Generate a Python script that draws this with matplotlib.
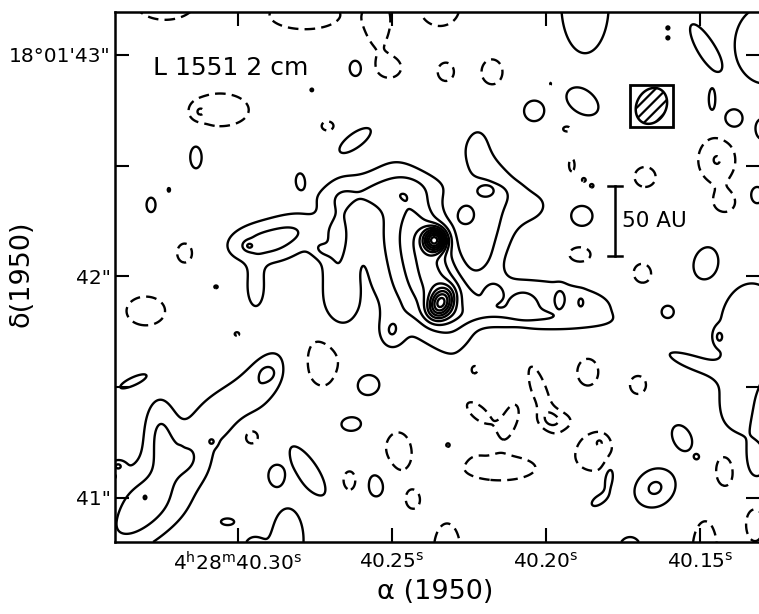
import numpy as np
import matplotlib
matplotlib.use("Agg")
import matplotlib.pyplot as plt
from matplotlib.patches import Rectangle, Polygon

plt.rcParams['hatch.linewidth'] = 1.6

# L1551 2 cm map, RA in seconds after 4h28m, Dec in arcsec after 18d01'
# emission components: position, peak (contour steps),
# gaussian sigma along / across the position angle (arcsec), angle (deg, ccw from +x on the plot)
pos_ra = [40.2360, 40.2341, 40.2367, 40.2442, 40.2052, 40.2084, 40.2166, 40.2075, 40.1954, 40.1886,
          40.2555, 40.2799, 40.2221, 40.2052, 40.2149, 40.2133, 40.2912, 40.2964, 40.2942, 40.2675,
          40.2734, 40.2799, 40.2896, 40.2984, 40.3081, 40.3253, 40.3156, 40.3286, 40.3302, 40.3367,
          40.3084, 40.3188, 40.3344, 40.3390, 40.2838, 40.2955, 40.1331, 40.1386, 40.1532, 40.1438,
          40.1604, 40.1321, 40.1315, 40.1289, 40.1299, 40.1873, 40.1490, 40.1604, 40.1604, 40.1461,
          40.1393, 40.2617, 40.2039, 40.1880, 40.2760, 40.2620, 40.3136, 40.3282, 40.3224, 40.2195,
          40.2256, 40.1883, 40.1484, 40.2669, 40.2503, 40.2581, 40.2633, 40.2877, 40.2773, 40.2549,
          40.3033, 40.1558, 40.1510, 40.1646, 40.1795, 40.1828, 40.1727, 40.2903]
pos_dec = [42.165, 41.880, 42.038, 42.097, 41.885, 41.813, 41.930, 41.876, 41.907, 41.885,
           42.381, 42.445, 42.571, 42.309, 42.458, 42.187, 42.151, 42.138, 41.948, 42.156,
           42.120, 42.219, 41.569, 41.465, 41.352, 41.298, 41.180, 41.027, 41.004, 40.855,
           41.253, 41.194, 41.524, 41.144, 40.810, 40.774, 41.758, 41.397, 41.614, 41.727,
           41.840, 41.162, 42.368, 43.045, 42.661, 43.226, 43.045, 43.122, 43.077, 42.797,
           42.707, 42.941, 42.747, 42.783, 42.842, 42.616, 42.544, 42.323, 42.391, 42.381,
           42.278, 42.273, 42.065, 41.858, 41.749, 41.510, 41.334, 41.104, 41.126, 41.063,
           40.892, 41.271, 41.185, 41.045, 41.095, 40.991, 40.774, 41.564]
pos_peak = [7.5, 5.5, 2.0, 2.6, 1.8, 0.8, 0.9, 1.0, 0.9, 0.8,
            1.1, 1.0, 1.3, 1.4, 1.2, 1.3, 2.3, 1.2, 1.9, 1.9,
            0.9, 1.0, 1.35, 1.15, 1.3, 1.9, 1.5, 1.7, 0.6, 1.7,
            0.9, 0.6, 1.3, 1.5, 1.5, 1.2, 1.7, 1.5, 1.3, 1.3,
            1.4, 1.5, 1.4, 1.6, 1.5, 1.6, 1.6, 1.2, 1.2, 1.5,
            1.5, 1.5, 1.5, 1.5, 1.2, 1.5, 1.5, 1.5, 1.2, 1.4,
            1.4, 1.5, 1.5, 1.5, 1.5, 1.5, 1.5, 1.5, 1.5, 1.5,
            1.3, 1.5, 1.2, 2.15, 2.2, 1.5, 1.5, 0.6]
pos_major = [0.036, 0.050, 0.248, 0.270, 0.338, 0.293, 0.027, 0.036, 0.018, 0.014,
             0.270, 0.036, 0.063, 0.072, 0.090, 0.158, 0.135, 0.018, 0.072, 0.171,
             0.036, 0.090, 0.099, 0.126, 0.108, 0.126, 0.081, 0.158, 0.014, 0.158,
             0.014, 0.009, 0.081, 0.023, 0.158, 0.045, 0.203, 0.126, 0.126, 0.018,
             0.023, 0.054, 0.036, 0.144, 0.027, 0.113, 0.099, 0.011, 0.011, 0.045,
             0.041, 0.032, 0.050, 0.072, 0.011, 0.072, 0.032, 0.023, 0.009, 0.027,
             0.032, 0.054, 0.068, 0.068, 0.041, 0.063, 0.054, 0.032, 0.135, 0.050,
             0.036, 0.068, 0.011, 0.081, 0.045, 0.045, 0.054, 0.027]
pos_minor = [0.036, 0.036, 0.072, 0.135, 0.090, 0.032, 0.027, 0.036, 0.032, 0.023,
             0.054, 0.054, 0.108, 0.054, 0.036, 0.045, 0.072, 0.014, 0.032, 0.059,
             0.027, 0.054, 0.063, 0.081, 0.081, 0.059, 0.081, 0.113, 0.018, 0.099,
             0.014, 0.018, 0.023, 0.018, 0.081, 0.054, 0.135, 0.063, 0.032, 0.027,
             0.023, 0.081, 0.045, 0.180, 0.041, 0.225, 0.032, 0.011, 0.011, 0.014,
             0.041, 0.041, 0.050, 0.045, 0.011, 0.027, 0.063, 0.036, 0.014, 0.018,
             0.036, 0.050, 0.050, 0.099, 0.054, 0.054, 0.036, 0.041, 0.045, 0.068,
             0.018, 0.045, 0.011, 0.068, 0.018, 0.023, 0.054, 0.023]
pos_angle = [0, 60, -72, -72, -3, -3, 0, 0, 0, 0,
             5, 0, 0, 20, -40, 71, 5, 0, 90, 88,
             -30, 0, 60, 40, 30, 90, 0, 0, 0, 30,
             0, 0, 25, 0, 90, 0, 90, 90, -20, 0,
             0, 0, 0, 0, 0, 0, -60, 0, 0, 90,
             0, 0, 0, -30, 0, 35, 0, 0, 0, 0,
             0, 0, 70, 0, 0, 0, 0, 0, -55, 0,
             0, -60, 0, 30, 80, 35, 0, 0]

# negative (dashed) features
neg_ra = [40.3237, 40.2782, 40.2344, 40.2506, 40.2545, 40.2325, 40.2175, 40.3058, 40.3123, 40.2708,
          40.1984, 40.1932, 40.1445, 40.1916, 40.1877, 40.1851, 40.1678, 40.1419, 40.1890, 40.1688,
          40.3172, 40.3071, 40.3299, 40.3003, 40.2724, 40.2958, 40.2480, 40.2636, 40.2432, 40.2234,
          40.2019, 40.1971, 40.2117, 40.2221, 40.2149, 40.2221, 40.1864, 40.1701, 40.2318, 40.1841,
          40.1825, 40.1412, 40.1321, 40.2321, 40.1484]
neg_dec = [43.248, 43.181, 43.212, 42.941, 43.136, 42.923, 42.923, 42.752, 42.743, 42.679,
           42.869, 42.666, 42.526, 42.503, 42.436, 42.409, 42.449, 42.332, 42.097, 42.007,
           42.106, 41.953, 41.844, 41.740, 41.623, 41.280, 41.207, 41.077, 40.991, 41.582,
           41.478, 41.352, 41.352, 41.388, 41.135, 41.162, 41.569, 41.510, 41.239, 41.207,
           41.253, 41.140, 40.878, 40.763, 40.763]
neg_peak = [-1.5, -1.5, -1.5, -1.5, -1.4, -1.5, -1.5, -1.4, -1.0, -1.4,
            -1.3, -1.3, -2.05, -1.3, -1.2, -1.2, -1.5, -1.5, -1.5, -1.5,
            -1.5, -1.2, -1.5, -1.2, -1.5, -1.5, -1.5, -1.5, -1.5, -1.5,
            -1.5, -1.5, -1.5, -1.5, -1.7, -0.7, -1.5, -1.5, -1.2, -1.5,
            -0.8, -1.5, -1.5, -1.5, -1.5]
neg_major = [0.158, 0.180, 0.099, 0.054, 0.054, 0.041, 0.054, 0.162, 0.023, 0.036,
             0.014, 0.027, 0.072, 0.018, 0.014, 0.014, 0.054, 0.050, 0.059, 0.054,
             0.041, 0.014, 0.099, 0.018, 0.090, 0.045, 0.068, 0.036, 0.032, 0.036,
             0.135, 0.063, 0.081, 0.081, 0.158, 0.023, 0.054, 0.041, 0.011, 0.090,
             0.023, 0.059, 0.045, 0.068, 0.063]
neg_minor = [0.099, 0.072, 0.090, 0.045, 0.113, 0.045, 0.063, 0.090, 0.023, 0.027,
             0.027, 0.018, 0.086, 0.041, 0.014, 0.014, 0.050, 0.045, 0.041, 0.059,
             0.050, 0.011, 0.072, 0.014, 0.131, 0.045, 0.099, 0.050, 0.041, 0.045,
             0.036, 0.036, 0.036, 0.036, 0.054, 0.018, 0.068, 0.045, 0.011, 0.090,
             0.023, 0.095, 0.081, 0.135, 0.144]
neg_angle = [0, 0, 0, 0, 0, 0, 0, 0, 0, 0,
             0, 0, 0, 0, 0, 0, 0, 0, 0, 0,
             0, 0, 0, 0, 0, 0, 0, 0, 0, 0,
             -70, 0, 70, -40, 0, 0, 0, 0, 0, 0,
             0, 0, 0, 0, 0]

neg_levels = [-2, -1]
pos_levels = [1, 2, 3, 4, 5, 6, 7, 8, 9, 10, 11, 12]

ra_ticks = [40.30, 40.25, 40.20, 40.15]
ra_labels = [r'4$^{\rm h}$28$^{\rm m}$40.30$^{\rm s}$', r'40.25$^{\rm s}$',
             r'40.20$^{\rm s}$', r'40.15$^{\rm s}$']
dec_ticks = [41.0, 41.5, 42.0, 42.5, 43.0]
dec_labels = ['41"', '', '42"', '', '18°01\'43"']

beam_major, beam_minor, beam_angle = 0.085, 0.068, 60   # arcsec (half axes), deg
scale_au, distance_pc = 50, 160

ra_lim = (40.3399, 40.1305)
dec_lim = (40.801, 43.194)
k = 15 * np.cos(np.radians(18.03))   # arcsec per second of RA

ra_grid = np.linspace(ra_lim[0], ra_lim[1], 700)
dec_grid = np.linspace(dec_lim[0], dec_lim[1], 700)
RA, DEC = np.meshgrid(ra_grid, dec_grid)


def add_components(field, ras, decs, peaks, majors, minors, angles):
    for r0, d0, a, sx, sy, ang in zip(ras, decs, peaks, majors, minors, angles):
        u = -(RA - r0) * k
        v = DEC - d0
        t = np.radians(ang)
        p = u * np.cos(t) + v * np.sin(t)
        q = -u * np.sin(t) + v * np.cos(t)
        field += a * np.exp(-0.5 * ((p / sx) ** 2 + (q / sy) ** 2))
    return field


field = np.zeros_like(RA)
field = add_components(field, pos_ra, pos_dec, pos_peak, pos_major, pos_minor, pos_angle)
field = add_components(field, neg_ra, neg_dec, neg_peak, neg_major, neg_minor, neg_angle)

fig = plt.figure(figsize=(7.59, 6.14), dpi=100)
ax = fig.add_axes([0.1515, 0.1173, 0.8498, 0.8632])

ax.contour(RA, DEC, field, levels=neg_levels, colors='black', linewidths=1.7,
           linestyles=[(0, (4.5, 2.6))])
ax.contour(RA, DEC, field, levels=pos_levels, colors='black', linewidths=1.7,
           linestyles='solid')

ax.set_xlim(ra_lim)
ax.set_ylim(dec_lim)

# beam in a box
box_ra = (40.1588, 40.1727)
box_dec = (42.675, 42.865)
ax.add_patch(Rectangle((box_ra[0], box_dec[0]), box_ra[1] - box_ra[0], box_dec[1] - box_dec[0],
                       fill=False, lw=2.0, ec='black', zorder=5))
bc_ra, bc_dec = np.mean(box_ra), np.mean(box_dec)
th = np.linspace(0, 2 * np.pi, 100)
t = np.radians(beam_angle)
bx = beam_major * np.cos(th) * np.cos(t) - beam_minor * np.sin(th) * np.sin(t)
by = beam_major * np.cos(th) * np.sin(t) + beam_minor * np.sin(th) * np.cos(t)
ax.add_patch(Polygon(np.column_stack([bc_ra - bx / k, bc_dec + by]), closed=True,
                     fill=False, hatch='///', lw=1.8, ec='black', zorder=5))

# 50 AU scale bar
bar_ra = 40.1776
bar_len = scale_au / distance_pc
bar_dec = 42.25
ax.plot([bar_ra, bar_ra], [bar_dec - bar_len / 2, bar_dec + bar_len / 2], color='black', lw=1.8)
for d in (bar_dec - bar_len / 2, bar_dec + bar_len / 2):
    ax.plot([bar_ra + 0.0023, bar_ra - 0.0023], [d, d], color='black', lw=1.8)
ax.text(40.1752, bar_dec, '50 AU', fontsize=15.5, va='center', ha='left')

ax.text(0.059, 0.881, 'L 1551 2 cm', transform=ax.transAxes, fontsize=18, va='baseline')

ax.set_xticks(ra_ticks)
ax.set_xticklabels(ra_labels)
ax.set_yticks(dec_ticks)
ax.set_yticklabels(dec_labels)
ax.tick_params(direction='in', length=10, width=1.5, top=True, right=True, labelsize=14.5)
ax.tick_params(axis='x', pad=7)
ax.tick_params(axis='y', pad=3)
for s in ('left', 'bottom', 'top'):
    ax.spines[s].set_linewidth(1.8)
ax.spines['right'].set_visible(False)

ax.set_xlabel('α (1950)', fontsize=19.5)
ax.xaxis.set_label_coords(0.496, -0.07)
ax.set_ylabel('δ(1950)', fontsize=19.5)
ax.yaxis.set_label_coords(-0.125, 0.507)

fig.savefig('out.png', dpi=100)
